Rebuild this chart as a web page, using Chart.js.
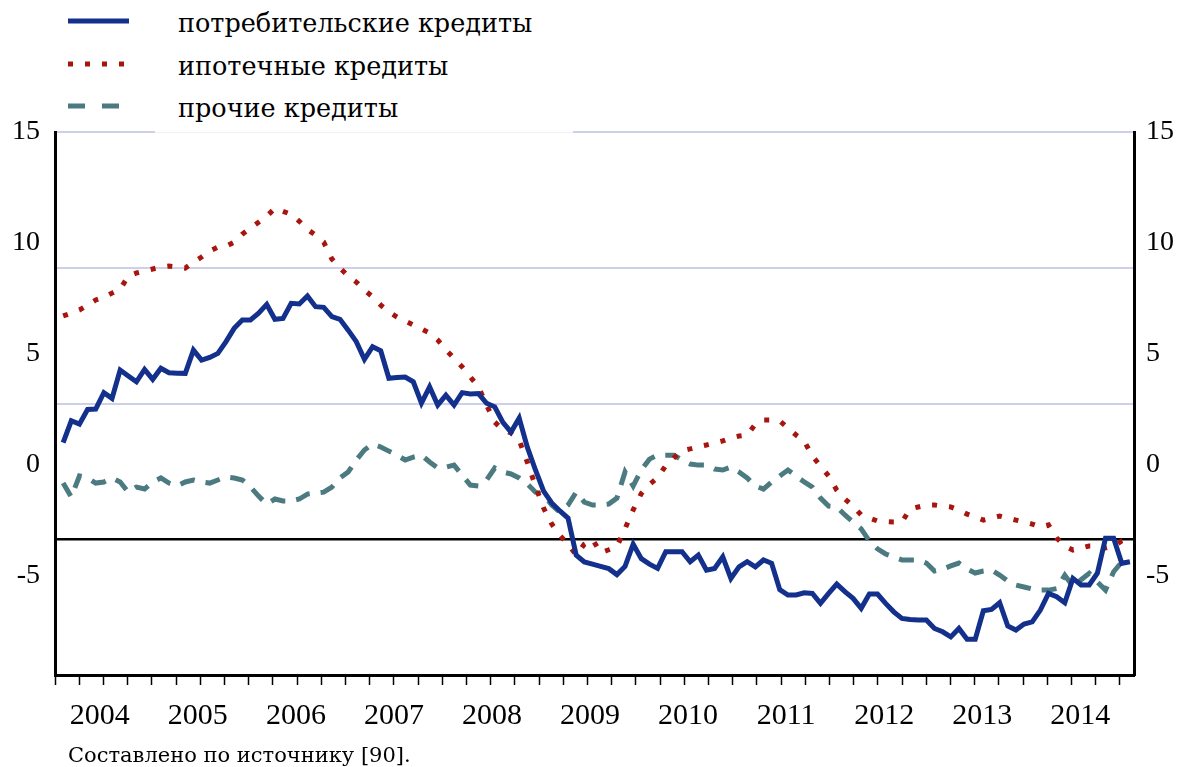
<!DOCTYPE html>
<html>
<head>
<meta charset="utf-8">
<script src="https://cdn.jsdelivr.net/npm/chart.js@4.4.0/dist/chart.umd.min.js"></script>
<style>
  body { margin: 0; background: #fff; }
  #wrap { position: relative; width: 1179px; height: 767px; font-family: "DejaVu Serif", serif; }
  #chart { position: absolute; left: 0; top: 0; }
  #cover { position: absolute; left: 155px; top: 0; width: 418px; height: 132px; background: #fff; border-bottom: 1px solid #f0f0f5; }
  #legend { position: absolute; left: 0; top: 0; width: 600px; height: 130px; }
  .item { position: absolute; left: 0; width: 600px; height: 32px; }
  .item svg { position: absolute; left: 68px; top: 10px; }
  .item span { position: absolute; left: 178px; top: 2px; font-size: 25.5px; line-height: 30px; color: #000; white-space: nowrap; }
  #source { position: absolute; left: 68px; top: 743px; font-size: 21px; line-height: 24px; color: #000; white-space: nowrap; }
</style>
</head>
<body>
<div id="wrap">
  <canvas id="chart" width="1179" height="767"></canvas>
  <div id="cover"></div>
  <div id="legend"></div>
  <div id="source">Составлено по источнику [90].</div>
</div>
<script>
// year labels on the x axis
const years = ['2004', '2005', '2006', '2007', '2008', '2009', '2010', '2011', '2012', '2013', '2014'];

// monthly values, Jan 2004 - Dec 2014
const consumer = [
  0.98, 1.97, 1.82, 2.48, 2.5, 3.24, 2.98, 4.26, 3.99, 3.73, 4.29, 3.84,
  4.34, 4.14, 4.12, 4.11, 5.16, 4.71, 4.83, 5.01, 5.54, 6.14, 6.52, 6.52,
  6.82, 7.22, 6.55, 6.59, 7.27, 7.24, 7.6, 7.12, 7.09, 6.67, 6.55, 6.06,
  5.54, 4.74, 5.31, 5.13, 3.89, 3.92, 3.94, 3.73, 2.77, 3.5, 2.68, 3.13,
  2.68, 3.24, 3.18, 3.2, 2.76, 2.6, 1.9, 1.46, 2.09, 0.78, -0.25, -1.2,
  -1.74, -2.1, -2.42, -4.09, -4.4, -4.5, -4.6, -4.7, -4.97, -4.6, -3.6, -4.25,
  -4.5, -4.69, -3.94, -3.94, -3.94, -4.39, -4.09, -4.77, -4.69, -4.17, -5.14, -4.62,
  -4.39, -4.62, -4.31, -4.46, -5.65, -5.89, -5.89, -5.79, -5.82, -6.27, -5.82, -5.4,
  -5.74, -6.04, -6.49, -5.85, -5.85, -6.27, -6.65, -6.95, -7.0, -7.02, -7.02, -7.4,
  -7.55, -7.78, -7.4, -7.89, -7.89, -6.6, -6.54, -6.24, -7.29, -7.47, -7.2, -7.1,
  -6.57, -5.82, -5.97, -6.24, -5.14, -5.44, -5.44, -4.91, -3.33, -3.33, -4.46, -4.39
];
const mortgage = [
  6.7, 6.83, 6.97, 7.19, 7.42, 7.55, 7.73, 7.91, 8.5, 8.64, 8.73, 8.82,
  8.91, 8.95, 8.91, 8.86, 9.13, 9.36, 9.63, 9.81, 9.85, 10.03, 10.39, 10.66,
  10.93, 11.2, 11.56, 11.42, 11.29, 10.97, 10.61, 10.34, 10.03, 9.27, 8.86, 8.5,
  8.23, 7.87, 7.56, 7.19, 6.88, 6.65, 6.47, 6.29, 6.11, 5.93, 5.62, 5.17,
  4.8, 4.4, 3.95, 3.5, 2.68, 1.91, 1.55, 1.42, 1.1, 0.1, -0.97, -1.97,
  -2.69, -3.2, -3.6, -4.09, -3.6, -3.38, -3.98, -3.85, -3.71, -2.9, -2.05, -1.31,
  -0.9, -0.6, -0.05, 0.3, 0.62, 0.7, 0.8, 0.88, 0.97, 1.06, 1.19, 1.28,
  1.33, 1.82, 2.0, 2.0, 1.96, 1.64, 1.33, 1.06, 0.38, -0.07, -0.52, -1.16,
  -1.56, -1.88, -2.28, -2.42, -2.55, -2.58, -2.6, -2.6, -2.01, -1.92, -1.83, -1.83,
  -1.88, -1.92, -2.06, -2.24, -2.37, -2.51, -2.42, -2.33, -2.42, -2.51, -2.6, -2.69,
  -2.82, -2.73, -3.32, -3.68, -3.86, -3.77, -3.68, -3.68, -3.77, -3.68, -3.45, -3.32
];
const other = [
  -0.84, -1.47, -0.52, -0.61, -0.84, -0.79, -0.61, -0.79, -1.25, -1.02, -1.11, -0.79,
  -0.61, -0.84, -0.97, -0.79, -0.7, -0.79, -0.84, -0.7, -0.56, -0.61, -0.7, -1.02,
  -1.43, -1.79, -1.56, -1.65, -1.65, -1.56, -1.34, -1.29, -1.25, -1.02, -0.61, -0.34,
  0.2, 0.65, 0.92, 0.79, 0.6, 0.42, 0.2, 0.33, 0.42, 0.11, -0.16, -0.12,
  -0.03, -0.48, -0.93, -0.97, -0.7, -0.16, -0.34, -0.43, -0.61, -0.88, -1.25, -1.38,
  -1.83, -2.15, -1.83, -1.25, -1.7, -1.83, -1.83, -1.79, -1.52, -0.34, -0.97, -0.25,
  0.24, 0.42, 0.42, 0.42, 0.2, 0.02, -0.03, -0.03, -0.21, -0.25, -0.12, -0.34,
  -0.61, -0.97, -1.11, -0.79, -0.52, -0.25, -0.52, -0.79, -1.02, -1.52, -1.88, -1.92,
  -2.28, -2.6, -2.91, -3.45, -3.81, -4.04, -4.18, -4.31, -4.31, -4.31, -4.45, -4.81,
  -4.72, -4.58, -4.45, -4.72, -4.9, -4.81, -4.76, -4.99, -5.26, -5.44, -5.53, -5.62,
  -5.67, -5.67, -5.6, -5.0, -5.5, -5.2, -4.91, -5.3, -5.67, -4.84, -4.4, -4.45
];

// y axis labels and the (odd) horizontal rule positions of the original
const yLabels = [15, 10, 5, 0, -5];
const gridValues = [15, 8.875, 2.75, -3.375];
const blackLine = -3.375;

const yMin = -9.5, yMax = 15;
const quarterTicks = Array.from({ length: 45 }, (_, k) => k * 2.972);
const yearTicks = years.map((y, j) => 5.5 + 12.04 * j);
const toPoints = arr => arr.map((v, i) => ({ x: i + 1, y: v }));
const font = { family: '"Liberation Serif", "Times New Roman", serif', size: 28 };

const series = [
  { label: 'потребительские кредиты', data: consumer, color: '#12308c', dash: [], legendDash: '' },
  { label: 'ипотечные кредиты', data: mortgage, color: '#a8150f', dash: [5, 12], legendDash: '5 12' },
  { label: 'прочие кредиты', data: other, color: '#4b7b80', dash: [15, 11], legendDash: '17 17' }
];

let ctx = document.getElementById('chart').getContext('2d');
let myChart = new Chart(ctx, {
  type: 'line',
  data: {
    datasets: series.map(s => ({
      label: s.label,
      data: toPoints(s.data),
      borderColor: s.color,
      backgroundColor: s.color,
      borderWidth: 5,
      borderDash: s.dash,
      pointRadius: 0,
      tension: 0,
      fill: false,
      yAxisID: 'y'
    }))
  },
  options: {
    responsive: false,
    animation: false,
    devicePixelRatio: 1,
    layout: { padding: { top: 132, left: 0, right: 0, bottom: 0 } },
    plugins: { legend: { display: false }, tooltip: { enabled: false } },
    scales: {
      x: {
        type: 'linear',
        min: 0,
        max: 132.5,
        afterBuildTicks: s => {
          s.ticks = [...quarterTicks, ...yearTicks].sort((a, b) => a - b).map(v => ({ value: v }));
        },
        afterFit: s => { s.height = 92; },
        ticks: {
          autoSkip: false,
          maxRotation: 0,
          padding: 13,
          color: '#000',
          font: { family: font.family, size: 30 },
          callback: v => {
            const j = yearTicks.indexOf(v);
            return j >= 0 ? years[j] : '';
          }
        },
        grid: {
          drawOnChartArea: false,
          tickLength: 10,
          tickWidth: 1.5,
          tickColor: c => (c.tick && yearTicks.includes(c.tick.value)) ? 'rgba(0,0,0,0)' : '#000'
        },
        border: { color: '#000', width: 3 }
      },
      y: {
        position: 'left',
        min: yMin,
        max: yMax,
        afterBuildTicks: s => { s.ticks = yLabels.map(v => ({ value: v })); },
        afterFit: s => { s.width = 55; },
        ticks: { color: '#000', font: font, padding: 15 },
        grid: { display: false, drawTicks: false },
        border: { color: '#000', width: 3 }
      },
      yg: {
        position: 'left',
        min: yMin,
        max: yMax,
        afterBuildTicks: s => { s.ticks = gridValues.map(v => ({ value: v })); },
        afterFit: s => { s.width = 0; },
        ticks: { display: false },
        border: { display: false },
        grid: {
          drawTicks: false,
          color: c => (c.tick && c.tick.value === blackLine) ? '#000' : '#cdd0e8',
          lineWidth: c => (c.tick && c.tick.value === blackLine) ? 2.5 : 2
        }
      },
      y2: {
        position: 'right',
        min: yMin,
        max: yMax,
        afterBuildTicks: s => { s.ticks = yLabels.map(v => ({ value: v })); },
        afterFit: s => { s.width = 45; },
        ticks: { color: '#000', font: font, padding: 12 },
        grid: { display: false, drawTicks: false },
        border: { color: '#000', width: 3 }
      }
    }
  }
});

// HTML legend built from the datasets
const legendTops = [6, 49, 91];
const legend = document.getElementById('legend');
series.forEach((s, i) => {
  const item = document.createElement('div');
  item.className = 'item';
  item.style.top = legendTops[i] + 'px';
  const dash = s.legendDash ? ` stroke-dasharray="${s.legendDash}"` : '';
  item.innerHTML = `<svg width="62" height="10"><line x1="0" y1="5" x2="61" y2="5" stroke="${s.color}" stroke-width="5"${dash}/></svg><span>${s.label}</span>`;
  legend.appendChild(item);
});
</script>
</body>
</html>
